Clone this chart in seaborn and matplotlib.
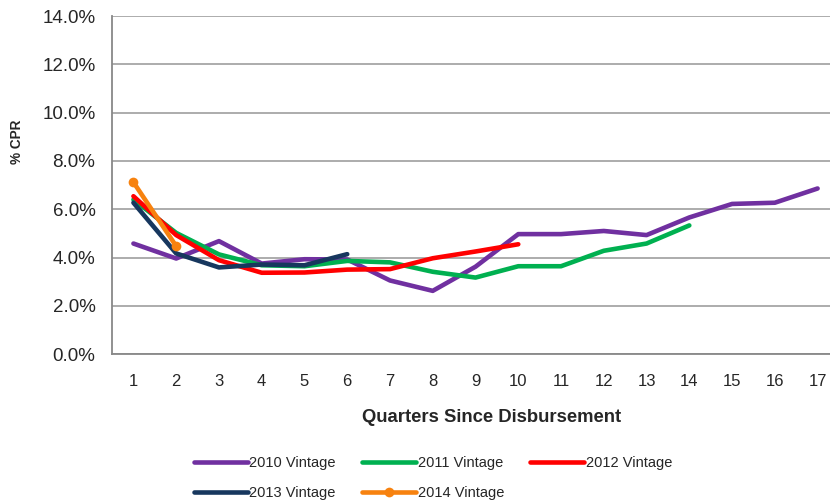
import numpy as np
import pandas as pd
import seaborn as sns
import matplotlib.pyplot as plt
from matplotlib.ticker import PercentFormatter

quarters = list(range(1, 18))

cpr_2010 = [4.58, 3.96, 4.68, 3.75, 3.93, 3.92, 3.05, 2.62, 3.62, 4.97, 4.97, 5.10, 4.93, 5.66, 6.22, 6.27, 6.86]
cpr_2011 = [6.40, 5.02, 4.13, 3.68, 3.64, 3.86, 3.80, 3.41, 3.17, 3.64, 3.64, 4.28, 4.58, 5.33]
cpr_2012 = [6.54, 4.93, 3.89, 3.37, 3.38, 3.50, 3.52, 3.97, 4.25, 4.55]
cpr_2013 = [6.27, 4.17, 3.59, 3.71, 3.68, 4.14]
cpr_2014 = [7.12, 4.47]

series = {
    '2010 Vintage': cpr_2010,
    '2011 Vintage': cpr_2011,
    '2012 Vintage': cpr_2012,
    '2013 Vintage': cpr_2013,
    '2014 Vintage': cpr_2014,
}
colors = {
    '2010 Vintage': '#7030A0',
    '2011 Vintage': '#00B050',
    '2012 Vintage': '#FF0000',
    '2013 Vintage': '#17375E',
    '2014 Vintage': '#F7820F',
}

sns.set_style('white')
plt.rcParams['font.family'] = ['Liberation Sans', 'DejaVu Sans']

fig = plt.figure(figsize=(8.3, 5.03), dpi=100)
ax = fig.add_axes([0.135, 0.296, 0.865, 0.672])

for name, vals in series.items():
    df = pd.DataFrame({'Quarter': quarters[:len(vals)], 'CPR': vals})
    sns.lineplot(data=df, x='Quarter', y='CPR', ax=ax, color=colors[name],
                 linewidth=3.3, label=name,
                 marker='o' if name == '2014 Vintage' else None,
                 markersize=7, markeredgewidth=0)

ax.set_xlim(0.5, 17.29)
ax.set_ylim(0, 14)
ax.set_yticks(np.arange(0, 14.1, 2))
ax.yaxis.set_major_formatter(PercentFormatter(decimals=1))
ax.set_xticks(quarters)
ax.tick_params(axis='y', labelsize=13.5, length=5, color='#888888', pad=7)
ax.tick_params(axis='x', labelsize=12, length=0, pad=14)
ax.grid(axis='y', color='#A6A6A6', linewidth=1.3)
ax.set_axisbelow(True)
for s in ['top', 'right']:
    ax.spines[s].set_visible(False)
for s in ['left', 'bottom']:
    ax.spines[s].set_color('#888888')
    ax.spines[s].set_linewidth(1.3)
ax.set_xlabel('')
ax.set_ylabel('')

fig.text(17 / 830, 1 - 142 / 503, '% CPR', rotation=90, ha='center', va='center',
         fontsize=9.8, fontweight='bold')
fig.text(492 / 830, 1 - 417 / 503, 'Quarters Since Disbursement', ha='center', va='center',
         fontsize=13.3, fontweight='bold')

# row-wise legend order for a 3-column layout
handles, labels = ax.get_legend_handles_labels()
ax.get_legend().remove()
order = [0, 3, 1, 4, 2]
fig.legend([handles[i] for i in order], [labels[i] for i in order], ncol=3, loc='center',
           bbox_to_anchor=(433 / 830, 1 - 478 / 503),
           frameon=False, fontsize=10.5, handlelength=3.7, handletextpad=0.1,
           columnspacing=1.8, labelspacing=1.1)

fig.savefig('out.png', dpi=100)
